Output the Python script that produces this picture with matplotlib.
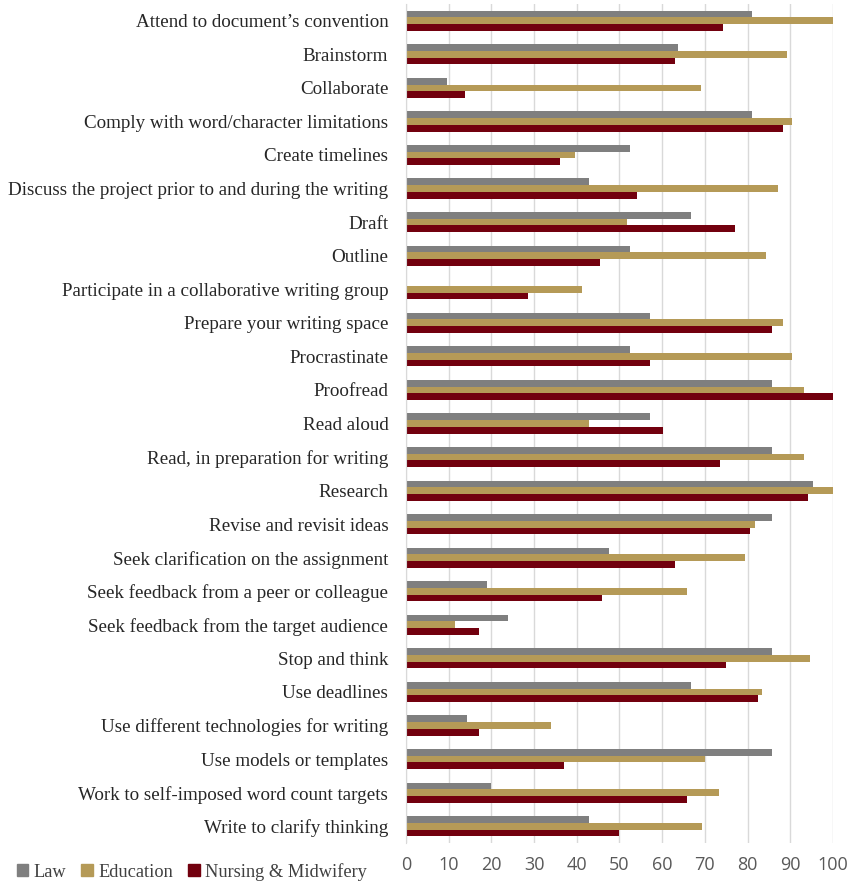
import matplotlib.pyplot as plt
import matplotlib.transforms as mtransforms
from matplotlib.patches import Patch
import numpy as np

tasks = [
    "Attend to document\u2019s convention",
    "Brainstorm",
    "Collaborate",
    "Comply with word/character limitations",
    "Create timelines",
    "Discuss the project prior to and during the writing",
    "Draft",
    "Outline",
    "Participate in a collaborative writing group",
    "Prepare your writing space",
    "Procrastinate",
    "Proofread",
    "Read aloud",
    "Read, in preparation for writing",
    "Research",
    "Revise and revisit ideas",
    "Seek clarification on the assignment",
    "Seek feedback from a peer or colleague",
    "Seek feedback from the target audience",
    "Stop and think",
    "Use deadlines",
    "Use different technologies for writing",
    "Use models or templates",
    "Work to self-imposed word count targets",
    "Write to clarify thinking",
]

law = [81.0, 63.6, 9.5, 81.0, 52.4, 42.9, 66.7, 52.4, 0.0, 57.1, 52.4, 85.7, 57.1,
       85.7, 95.2, 85.7, 47.6, 19.0, 23.8, 85.7, 66.7, 14.3, 85.7, 20.0, 42.9]
education = [100.0, 89.2, 69.1, 90.5, 39.5, 87.2, 51.7, 84.2, 41.3, 88.2, 90.5, 93.3, 42.8,
             93.1, 100.0, 81.8, 79.5, 65.9, 11.5, 94.7, 83.4, 33.9, 70.1, 73.2, 69.3]
nursing = [74.3, 62.9, 13.8, 88.2, 36.0, 54.2, 77.1, 45.5, 28.5, 85.6, 57.1, 100.0, 60.1,
           73.6, 94.2, 80.5, 62.9, 45.9, 17.0, 75.0, 82.4, 17.0, 37.1, 65.7, 50.0]

series = [("Law", law, "#7f7f7f"),
          ("Education", education, "#b59a57"),
          ("Nursing & Midwifery", nursing, "#72000e")]

fig = plt.figure(figsize=(8.52, 8.83), dpi=100)
ax = fig.add_axes([0.4765, 0.0453, 0.5012, 0.9502])

y = np.arange(len(tasks))
h = 0.2
for i, (name, vals, col) in enumerate(series):
    ax.barh(y + (i - 1) * h, vals, height=h, color=col, zorder=3)

ax.set_ylim(len(tasks) - 0.5, -0.5)
ax.set_xlim(0, 100)
ax.set_xticks(np.arange(0, 101, 10))
ax.set_yticks(y)
ax.set_yticklabels(tasks, family="Liberation Serif", fontsize=13.7, color="#262626")
# lift category labels slightly above the group centre
shift = mtransforms.ScaledTranslation(0, 3.5 / 72, fig.dpi_scale_trans)
for lbl in ax.get_yticklabels():
    lbl.set_transform(lbl.get_transform() + shift)
for lbl in ax.get_xticklabels():
    lbl.set_family("Open Sans")
    lbl.set_fontsize(13)
    lbl.set_color("#595959")
ax.tick_params(axis="both", length=0)
ax.tick_params(axis="y", pad=12.7)
ax.tick_params(axis="x", pad=9)
ax.grid(axis="x", color="#d9d9d9", linewidth=1, zorder=0)
for s in ["top", "right", "bottom"]:
    ax.spines[s].set_visible(False)
ax.spines["left"].set_color("#d9d9d9")
ax.spines["left"].set_zorder(4)

handles = [Patch(color=c, label=n) for n, _, c in series]
fig.legend(handles=handles, loc="lower left", bbox_to_anchor=(0.0, -0.016), ncol=3,
           frameon=False, handlelength=0.65, handleheight=0.65, handletextpad=0.3,
           columnspacing=0.8, prop={"family": "Liberation Serif", "size": 13.2},
           labelcolor="#404040")

fig.savefig("out.png", dpi=100)
